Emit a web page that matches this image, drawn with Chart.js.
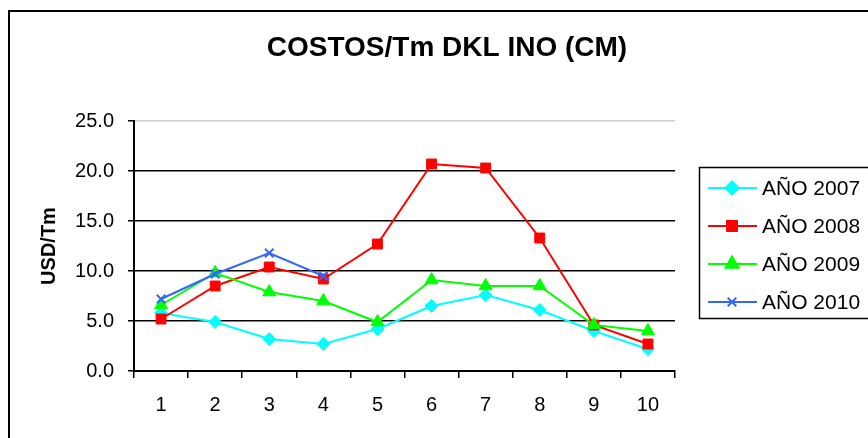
<!DOCTYPE html>
<html>
<head>
<meta charset="utf-8">
<script src="https://cdn.jsdelivr.net/npm/chart.js@4"></script>
<style>
  html, body { margin: 0; padding: 0; background: #fff; }
  canvas { display: block; }
</style>
</head>
<body>
<canvas id="costosChart" width="868" height="438"></canvas>
<script>
// Datos del gráfico
const categorias = ['1', '2', '3', '4', '5', '6', '7', '8', '9', '10'];
const anio2007 = [5.8, 4.9, 3.2, 2.7, 4.2, 6.5, 7.6, 6.1, 4.0, 2.2];
const anio2008 = [5.2, 8.5, 10.4, 9.2, 12.7, 20.7, 20.3, 13.3, 4.6, 2.7];
const anio2009 = [6.6, 9.8, 7.9, 7.0, 4.9, 9.1, 8.5, 8.5, 4.6, 4.0];
const anio2010 = [7.2, 9.7, 11.8, 9.5, null, null, null, null, null, null];
const yTicks = [0, 5, 10, 15, 20, 25];

const FONT = 'Arial, "Liberation Sans", sans-serif';

// Rahmen, Titel und Legende selbst zeichnen
const marcoPlugin = {
    id: 'marco',
    beforeDraw(chart) {
        const c = chart.ctx;
        c.save();
        c.fillStyle = '#fff';
        c.fillRect(0, 0, chart.width, chart.height);
        c.strokeStyle = '#000';
        c.lineWidth = 2;
        c.strokeRect(9, 11, 900, 500);
        c.restore();
    },
    afterDraw(chart) {
        const c = chart.ctx;
        c.save();
        // Titel
        c.fillStyle = '#000';
        c.font = 'bold 28px ' + FONT;
        c.textAlign = 'center';
        c.textBaseline = 'middle';
        c.fillText('COSTOS/Tm DKL INO (CM)', 447, 48);

        // Legende
        c.strokeStyle = '#000';
        c.lineWidth = 1.5;
        c.strokeRect(699.5, 167.5, 200, 151);
        const ys = [188, 226, 264, 302];
        chart.data.datasets.forEach((ds, i) => {
            const y = ys[i];
            c.strokeStyle = ds.borderColor;
            c.lineWidth = 2;
            c.beginPath();
            c.moveTo(708, y);
            c.lineTo(757, y);
            c.stroke();
            c.fillStyle = ds.borderColor;
            Chart.helpers.drawPoint(c, {
                pointStyle: ds.pointStyle,
                radius: ds.pointRadius,
                borderWidth: ds.pointBorderWidth
            }, 732, y);
            c.fillStyle = '#000';
            c.font = '21px ' + FONT;
            c.textAlign = 'left';
            c.textBaseline = 'middle';
            c.fillText(ds.label, 762, y + 1);
        });
        c.restore();
    }
};

function serie(label, data, color, style, radius, order) {
    return {
        label: label,
        data: data,
        borderColor: color,
        backgroundColor: color,
        pointBackgroundColor: color,
        pointBorderColor: color,
        borderWidth: 2,
        pointStyle: style,
        pointRadius: radius,
        pointHoverRadius: radius,
        pointBorderWidth: style === 'crossRot' ? 2 : 1,
        tension: 0,
        fill: false,
        spanGaps: false,
        order: order
    };
}

const datasets = [
    serie('AÑO 2007', anio2007, '#00FFFF', 'rectRot', 6.5, 4),
    serie('AÑO 2008', anio2008, '#FF0000', 'rect', 7, 3),
    serie('AÑO 2009', anio2009, '#00FF00', 'triangle', 7.5, 2),
    serie('AÑO 2010', anio2010, '#3366FF', 'crossRot', 6, 1)
];

const ctx = document.getElementById('costosChart').getContext('2d');
const chart = new Chart(ctx, {
    type: 'line',
    data: { labels: categorias, datasets: datasets },
    options: {
        responsive: false,
        animation: false,
        layout: { padding: { left: 0, top: 121, right: 193, bottom: 0 } },
        plugins: {
            legend: { display: false },
            title: { display: false },
            tooltip: { enabled: false }
        },
        scales: {
            x: {
                offset: true,
                afterFit: s => { s.height = 67; },
                grid: {
                    offset: true,
                    drawOnChartArea: false,
                    drawTicks: true,
                    tickLength: 7,
                    color: '#000',
                    lineWidth: 1.5
                },
                border: { color: '#000', width: 2 },
                ticks: {
                    color: '#000',
                    font: { family: FONT, size: 20 },
                    padding: 15,
                    maxRotation: 0
                }
            },
            y: {
                min: 0,
                max: 25,
                afterFit: s => { s.width = 134; },
                afterBuildTicks: s => { s.ticks = yTicks.map(v => ({ value: v })); },
                title: {
                    display: true,
                    text: 'USD/Tm',
                    color: '#000',
                    font: { family: FONT, size: 20, weight: 'bold' },
                    padding: { top: 37, bottom: 0 }
                },
                grid: {
                    color: c => (c.tick && c.tick.value === 25) ? '#d0d0d0' : '#000',
                    lineWidth: 1.5,
                    drawTicks: true,
                    tickLength: 6,
                    tickColor: '#000'
                },
                border: { color: '#000', width: 2 },
                ticks: {
                    color: '#000',
                    font: { family: FONT, size: 20 },
                    padding: 14,
                    callback: v => v.toFixed(1)
                }
            }
        }
    },
    plugins: [marcoPlugin]
});
</script>
</body>
</html>
